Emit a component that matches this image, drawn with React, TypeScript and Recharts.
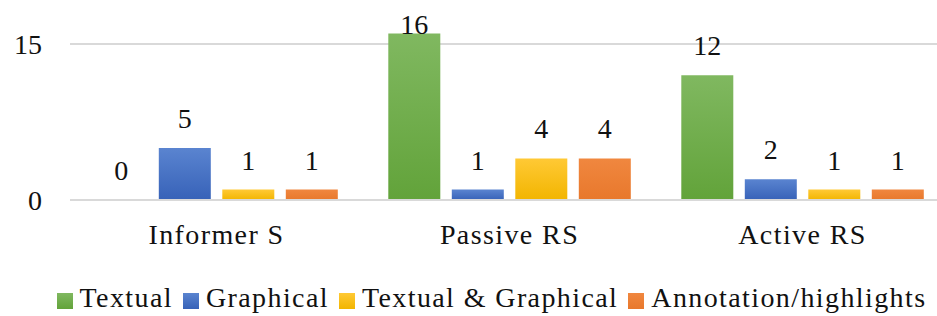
import { BarChart, Bar, XAxis, YAxis, CartesianGrid, Legend, LabelList } from 'recharts';

const CATEGORIES = ['Informer S', 'Passive RS', 'Active RS'];
const TEXTUAL = [0, 16, 12];
const GRAPHICAL = [5, 1, 2];
const TEXTUAL_GRAPHICAL = [1, 4, 1];
const ANNOTATION = [1, 4, 1];
const Y_TICKS = [0, 15];

const SERIES = [
  { key: 'textual', name: 'Textual', color: '#70ad47', top: '#80b860', bottom: '#62a33a' },
  { key: 'graphical', name: 'Graphical', color: '#4472c4', top: '#5a84d0', bottom: '#3762b8' },
  { key: 'both', name: 'Textual & Graphical', color: '#ffc000', top: '#ffc935', bottom: '#f2b500' },
  { key: 'annotation', name: 'Annotation/highlights', color: '#ed7d31', top: '#f0873f', bottom: '#e8782c' },
];

const data = CATEGORIES.map((name, i) => ({
  name,
  textual: TEXTUAL[i],
  graphical: GRAPHICAL[i],
  both: TEXTUAL_GRAPHICAL[i],
  annotation: ANNOTATION[i],
}));

const FONT = "Liberation Serif, Times New Roman, Times, Noto Serif, DejaVu Serif, serif";

// value label above each bar; pushed down inside the bar when it would leave the top
function ValueLabel(props: any) {
  const { x, y, width, value } = props;
  const baseline = Math.max(Number(y) - 20, 34);
  return (
    <text
      x={Number(x) + Number(width) / 2}
      y={baseline}
      textAnchor="middle"
      fontFamily={FONT}
      fontSize={28}
      fill="#111"
    >
      {value}
    </text>
  );
}

export default function App() {
  return (
    <div style={{ position: 'fixed', left: 0, top: 0, width: 937, height: 316, overflow: 'hidden', background: '#fff', fontFamily: FONT }}>
      <BarChart
        width={949}
        height={316}
        data={data}
        margin={{ top: 12.8, right: 0, left: 0, bottom: 86 }}
        barCategoryGap={25.3}
        barGap={11.5}
      >
        <defs>
          {SERIES.map((s) => (
            <linearGradient key={s.key} id={`grad-${s.key}`} x1="0" y1="0" x2="0" y2="1">
              <stop offset="0%" stopColor={s.top} />
              <stop offset="100%" stopColor={s.bottom} />
            </linearGradient>
          ))}
        </defs>
        <CartesianGrid vertical={false} horizontalValues={Y_TICKS} stroke="#d9d9d9" strokeWidth={2} />
        <XAxis
          dataKey="name"
          height={30}
          tickSize={0}
          tickMargin={24.4}
          axisLine={{ stroke: '#d9d9d9', strokeWidth: 2 }}
          tickLine={false}
          tick={{ fontSize: 28, fill: '#111', letterSpacing: 1.4, fontFamily: FONT }}
        />
        <YAxis
          width={70}
          domain={[0, 18]}
          ticks={Y_TICKS}
          interval={0}
          tickSize={0}
          tickMargin={28}
          axisLine={false}
          tickLine={false}
          tick={{ fontSize: 28, fill: '#111', fontFamily: FONT }}
        />
        <Legend
          verticalAlign="middle"
          align="center"
          iconType="square"
          iconSize={16}
          itemSorter={(item: any) => SERIES.findIndex((s) => s.key === item.dataKey)}
          wrapperStyle={{ left: 0, top: 282, width: 993, lineHeight: '32px', fontFamily: FONT, fontSize: 28 }}
          formatter={(value) => (
            <span style={{ color: '#111', marginLeft: 3, letterSpacing: 1.4 }}>{value}</span>
          )}
        />
        {SERIES.map((s) => (
          <Bar
            key={s.key}
            dataKey={s.key}
            name={s.name}
            fill={`url(#grad-${s.key})`}
            isAnimationActive={false}
            legendType="square"
            minPointSize={0.01}
          >
            <LabelList dataKey={s.key} content={ValueLabel} />
          </Bar>
        ))}
      </BarChart>
    </div>
  );
}
